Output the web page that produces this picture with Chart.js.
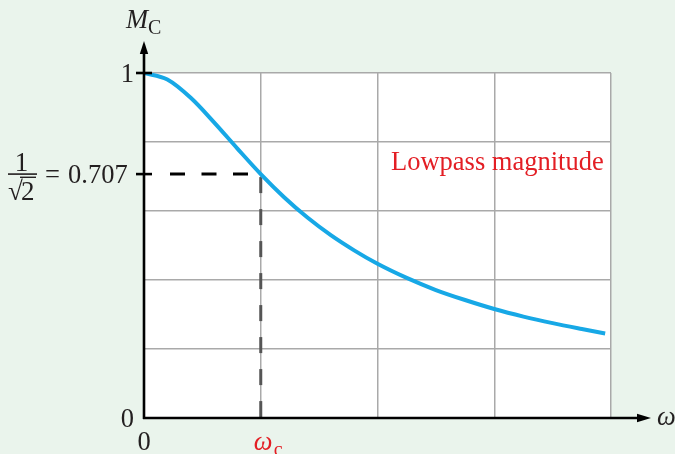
<!DOCTYPE html>
<html>
<head>
<meta charset="utf-8">
<script src="https://cdn.jsdelivr.net/npm/chart.js@4/dist/chart.umd.min.js"></script>
<style>
  html, body { margin: 0; padding: 0; background: #eaf4ec; }
  #wrap { width: 675px; height: 454px; position: relative; }
  canvas { display: block; }
</style>
</head>
<body>
<div id="wrap"><canvas id="c" width="675" height="454"></canvas></div>
<script>
// ---- data ----
const omega     = [0, 0.2, 0.4, 0.6, 0.8, 1.0, 1.2, 1.4, 1.6, 1.8, 2.0, 2.25, 2.5, 2.75, 3.0, 3.25, 3.5, 3.75, 3.95];
const magnitude = [1.000, 0.981, 0.928, 0.857, 0.781, 0.707, 0.640, 0.581, 0.530, 0.486, 0.447, 0.406, 0.371, 0.342, 0.316, 0.294, 0.275, 0.258, 0.245];
const xGridValues = [0, 1, 2, 3, 4];
const yGridValues = [0, 0.2, 0.4, 0.6, 0.8, 1];
const cutoffOmega = 1;
const cutoffMag = 0.707;
const yTickLabels = [{ v: 1, t: '1' }, { v: 0, t: '0' }];
const xTickLabels = [{ v: 0, t: '0' }];
const seriesLabel = 'Lowpass magnitude';

const INK = '#231f20';
const RED = '#e31e24';
const SERIF = '"Liberation Serif", "Times New Roman", serif';

const decor = {
  id: 'decor',
  beforeDraw(chart) {
    const { ctx, chartArea: a } = chart;
    ctx.save();
    ctx.fillStyle = '#eaf4ec';
    ctx.fillRect(0, 0, chart.width, chart.height);
    ctx.fillStyle = '#ffffff';
    ctx.fillRect(a.left, a.top, a.right - a.left, a.bottom - a.top);
    ctx.restore();
  },
  beforeDatasetsDraw(chart) {
    const { ctx, scales: { x, y } } = chart;
    const px = x.getPixelForValue(cutoffOmega);
    const py = y.getPixelForValue(cutoffMag);
    ctx.save();
    ctx.strokeStyle = '#555555';
    ctx.lineWidth = 3;
    ctx.setLineDash([16, 16]);
    ctx.beginPath();
    ctx.moveTo(px, py + 3);
    ctx.lineTo(px, y.getPixelForValue(0));
    ctx.stroke();
    ctx.strokeStyle = '#000000';
    ctx.lineWidth = 3;
    ctx.setLineDash([15, 16.5]);
    ctx.beginPath();
    ctx.moveTo(x.left + 26, py);
    ctx.lineTo(px - 11, py);
    ctx.stroke();
    ctx.restore();
  },
  afterDatasetsDraw(chart) {
    const { ctx, scales: { x, y } } = chart;
    const x0 = x.getPixelForValue(0);
    const y0 = y.getPixelForValue(0);
    ctx.save();
    ctx.strokeStyle = '#000';
    ctx.fillStyle = '#000';
    ctx.lineWidth = 2.6;
    ctx.beginPath();
    ctx.moveTo(x0, y0 + 1);
    ctx.lineTo(x0, 52);
    ctx.stroke();
    ctx.beginPath();
    ctx.moveTo(x0, 41);
    ctx.lineTo(x0 - 4.2, 54);
    ctx.lineTo(x0 + 4.2, 54);
    ctx.closePath();
    ctx.fill();
    ctx.beginPath();
    ctx.moveTo(x0 - 1, y0);
    ctx.lineTo(639, y0);
    ctx.stroke();
    ctx.beginPath();
    ctx.moveTo(651, y0);
    ctx.lineTo(637, y0 - 4.2);
    ctx.lineTo(637, y0 + 4.2);
    ctx.closePath();
    ctx.fill();
    [1, cutoffMag].forEach(v => {
      const py = y.getPixelForValue(v);
      ctx.beginPath();
      ctx.moveTo(x0 - 8, py);
      ctx.lineTo(x0 + 8, py);
      ctx.stroke();
    });

    // ---- text ----
    ctx.fillStyle = INK;
    ctx.textBaseline = 'alphabetic';
    ctx.font = '26.5px ' + SERIF;
    ctx.textAlign = 'right';
    yTickLabels.forEach(l => {
      ctx.fillText(l.t, x0 - 10, y.getPixelForValue(l.v) + 8.5);
    });
    ctx.textAlign = 'center';
    xTickLabels.forEach(l => {
      ctx.fillText(l.t, x.getPixelForValue(l.v), 450);
    });
    const py = y.getPixelForValue(cutoffMag);
    ctx.textAlign = 'left';
    ctx.fillText('=', 45, py + 8.5);
    ctx.fillText('0.707', 68, py + 8.5);
    ctx.textAlign = 'center';
    ctx.font = '27px ' + SERIF;
    ctx.fillText('1', 21.5, py - 3);
    ctx.fillRect(8, py - 0.8, 29, 1.6);
    ctx.textAlign = 'left';
    ctx.fillText('\u221A', 8, py + 26);
    ctx.fillText('2', 21, py + 26);
    ctx.fillRect(20, py + 2.5, 16, 1.4);
    ctx.font = 'italic 26.5px ' + SERIF;
    ctx.fillText('M', 126, 28);
    ctx.font = '20px ' + SERIF;
    ctx.fillText('C', 148, 34);
    ctx.font = 'italic 26.5px ' + SERIF;
    ctx.fillText('\u03C9', 657, 425);
    ctx.fillStyle = RED;
    ctx.font = 'italic 26.5px ' + SERIF;
    ctx.fillText('\u03C9', x.getPixelForValue(cutoffOmega) - 7, 450);
    ctx.font = '20px ' + SERIF;
    ctx.fillText('c', x.getPixelForValue(cutoffOmega) + 13, 456);
    ctx.font = '26.5px ' + SERIF;
    ctx.fillText(seriesLabel, 391, 170);
    ctx.restore();
  }
};

new Chart(document.getElementById('c'), {
  type: 'line',
  data: {
    datasets: [{
      label: seriesLabel,
      data: omega.map((w, i) => ({ x: w, y: magnitude[i] })),
      borderColor: '#17a8e6',
      borderWidth: 4,
      pointRadius: 0,
      fill: false,
      cubicInterpolationMode: 'monotone',
      borderCapStyle: 'butt'
    }]
  },
  options: {
    responsive: false,
    devicePixelRatio: 1,
    animation: false,
    events: [],
    layout: { padding: { left: 144, right: 64, top: 73, bottom: 36 } },
    plugins: { legend: { display: false }, tooltip: { enabled: false } },
    scales: {
      x: {
        type: 'linear', min: 0, max: 4,
        afterBuildTicks: s => { s.ticks = xGridValues.map(v => ({ value: v })); },
        afterFit: s => { s.height = 0; },
        ticks: { display: false },
        border: { display: false },
        grid: { color: '#a9a9a9', lineWidth: 1.5, drawTicks: false }
      },
      y: {
        type: 'linear', min: 0, max: 1,
        afterBuildTicks: s => { s.ticks = yGridValues.map(v => ({ value: v })); },
        afterFit: s => { s.width = 0; },
        ticks: { display: false },
        border: { display: false },
        grid: { color: '#a9a9a9', lineWidth: 1.5, drawTicks: false }
      }
    }
  },
  plugins: [decor]
});
</script>
</body>
</html>
